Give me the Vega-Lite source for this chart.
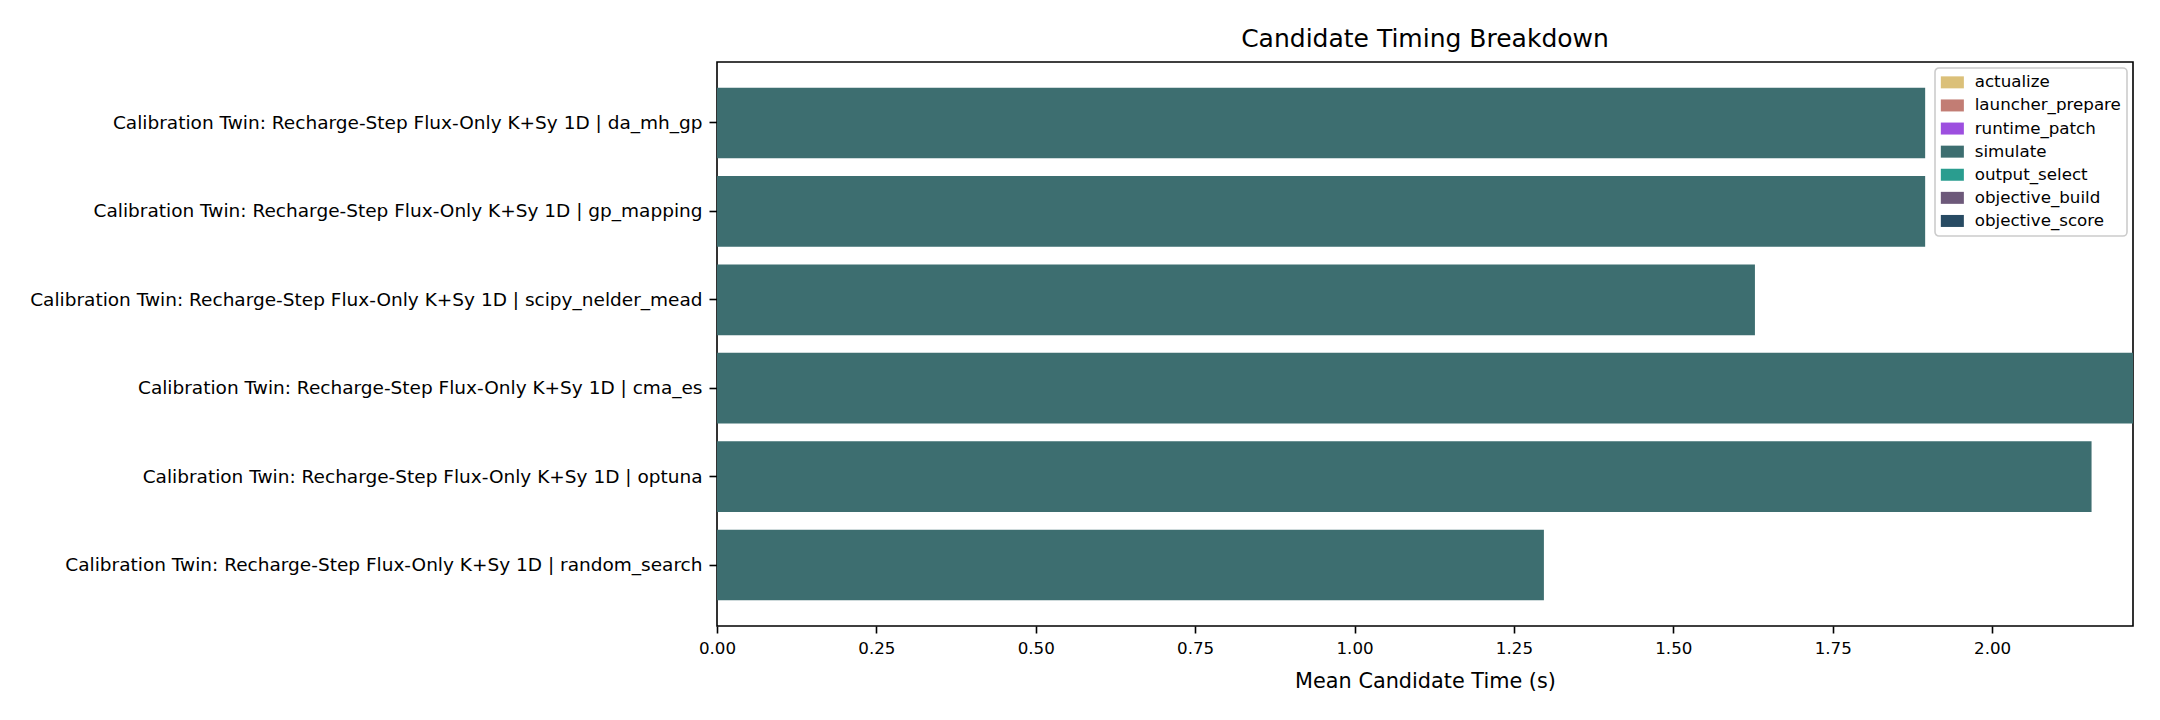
{
  "$schema": "https://vega.github.io/schema/vega-lite/v6.json",
  "autosize": {"type": "none"},
  "padding": {"left": 717, "top": 62, "right": 27, "bottom": 94},
  "width": 1416,
  "height": 564,
  "background": "white",
  "title": {
    "text": "Candidate Timing Breakdown",
    "font": "DejaVu Sans",
    "fontSize": 25,
    "fontWeight": "normal",
    "color": "black",
    "anchor": "middle",
    "frame": "group",
    "baseline": "alphabetic",
    "offset": -10
  },
  "data": {
    "values": [
      {"candidate": "Calibration Twin: Recharge-Step Flux-Only K+Sy 1D | da_mh_gp", "stage": "simulate", "seconds": 1.895},
      {"candidate": "Calibration Twin: Recharge-Step Flux-Only K+Sy 1D | gp_mapping", "stage": "simulate", "seconds": 1.895},
      {"candidate": "Calibration Twin: Recharge-Step Flux-Only K+Sy 1D | scipy_nelder_mead", "stage": "simulate", "seconds": 1.628},
      {"candidate": "Calibration Twin: Recharge-Step Flux-Only K+Sy 1D | cma_es", "stage": "simulate", "seconds": 2.221},
      {"candidate": "Calibration Twin: Recharge-Step Flux-Only K+Sy 1D | optuna", "stage": "simulate", "seconds": 2.156},
      {"candidate": "Calibration Twin: Recharge-Step Flux-Only K+Sy 1D | random_search", "stage": "simulate", "seconds": 1.297}
    ]
  },
  "mark": {"type": "bar"},
  "encoding": {
    "y": {
      "field": "candidate",
      "type": "nominal",
      "sort": [
        "Calibration Twin: Recharge-Step Flux-Only K+Sy 1D | da_mh_gp",
        "Calibration Twin: Recharge-Step Flux-Only K+Sy 1D | gp_mapping",
        "Calibration Twin: Recharge-Step Flux-Only K+Sy 1D | scipy_nelder_mead",
        "Calibration Twin: Recharge-Step Flux-Only K+Sy 1D | cma_es",
        "Calibration Twin: Recharge-Step Flux-Only K+Sy 1D | optuna",
        "Calibration Twin: Recharge-Step Flux-Only K+Sy 1D | random_search"
      ],
      "scale": {"paddingInner": 0.2, "paddingOuter": 0.29},
      "axis": {
        "title": null,
        "labelFont": "DejaVu Sans",
        "labelFontSize": 18.5,
        "labelColor": "black",
        "labelLimit": 1000,
        "tickColor": "black",
        "tickSize": 8,
        "tickWidth": 1.6,
        "labelPadding": 7,
        "domain": false,
        "grid": false
      }
    },
    "x": {
      "field": "seconds",
      "type": "quantitative",
      "stack": "zero",
      "scale": {"domain": [0, 2.221], "nice": false, "zero": true},
      "axis": {
        "title": "Mean Candidate Time (s)",
        "values": [0, 0.25, 0.5, 0.75, 1.0, 1.25, 1.5, 1.75, 2.0],
        "format": ".2f",
        "labelFont": "DejaVu Sans",
        "labelFontSize": 16.7,
        "labelColor": "black",
        "labelFlush": false,
        "labelOverlap": false,
        "tickColor": "black",
        "tickSize": 7,
        "tickWidth": 1.6,
        "labelPadding": 7,
        "domain": false,
        "grid": false,
        "titleFont": "DejaVu Sans",
        "titleFontSize": 20.8,
        "titleFontWeight": "normal",
        "titleColor": "black",
        "titlePadding": 15
      }
    },
    "color": {
      "field": "stage",
      "type": "nominal",
      "scale": {
        "domain": ["actualize", "launcher_prepare", "runtime_patch", "simulate", "output_select", "objective_build", "objective_score"],
        "range": ["#dbc079", "#c27d74", "#9d4fdf", "#3d6e70", "#2a9d8f", "#6d597a", "#284b63"]
      },
      "legend": {
        "title": null,
        "orient": "top-right",
        "offset": 6,
        "padding": 6,
        "strokeColor": "#cccccc",
        "fillColor": "rgba(255,255,255,0.8)",
        "cornerRadius": 4,
        "symbolType": "M-1.92,-1H1.92V1H-1.92Z",
        "symbolSize": 144,
        "symbolOffset": 3,
        "symbolStrokeWidth": 0,
        "symbolOpacity": 1,
        "labelFont": "DejaVu Sans",
        "labelFontSize": 16.7,
        "labelColor": "black",
        "labelOffset": 14,
        "rowPadding": 5.1,
        "labelLimit": 400
      }
    }
  },
  "config": {
    "view": {"stroke": "black", "strokeWidth": 1.6},
    "font": "DejaVu Sans",
    "legend": {"strokeWidth": 1.6}
  }
}
